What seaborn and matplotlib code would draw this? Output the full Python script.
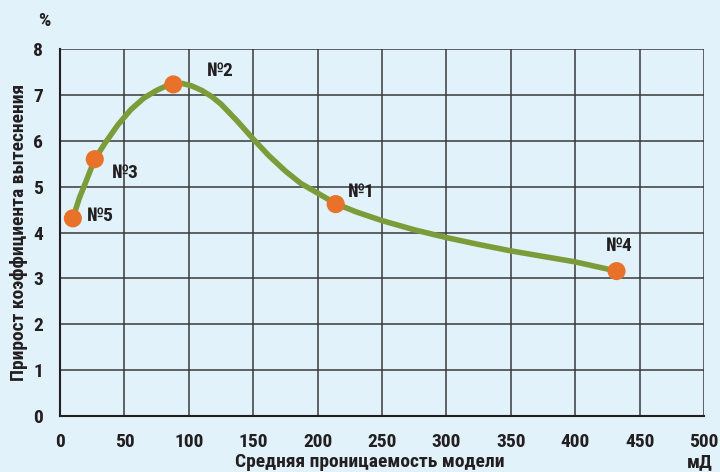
import numpy as np
import pandas as pd
import seaborn as sns
import matplotlib.pyplot as plt

# Points (models)
models = ['№5', '№3', '№2', '№1', '№4']
perm = [10, 27, 88, 214, 432]
gain = [4.31, 5.6, 7.23, 4.62, 3.16]

# fitted curve
curve_x = [10, 15, 20, 27, 35, 45, 55, 65, 75, 82, 88, 95, 102, 110, 118, 125, 137, 150,
           162, 175, 187, 200, 214, 230, 250, 275, 300, 325, 350, 375, 400, 432]
curve_y = [4.31, 4.75, 5.1, 5.6, 5.95, 6.35, 6.68, 6.93, 7.1, 7.19, 7.24, 7.25, 7.2, 7.1,
           6.96, 6.8, 6.45, 6.04, 5.68, 5.34, 5.07, 4.86, 4.63, 4.45, 4.26, 4.06, 3.89,
           3.74, 3.6, 3.48, 3.36, 3.16]

BG = '#E1F2FB'
INK = '#231F20'
GREEN = '#7C9C3A'
ORANGE = '#E8722A'

sns.set_style('white')
plt.rcParams['font.family'] = ['Roboto Condensed', 'DejaVu Sans']
plt.rcParams['font.stretch'] = 'condensed'
plt.rcParams['font.weight'] = 'bold'
plt.rcParams['axes.labelweight'] = 'bold'

fig = plt.figure(figsize=(7.2, 4.72), dpi=100, facecolor=BG)
ax = fig.add_axes([0.0833, 0.1186, 0.8947, 0.7774])
ax.set_facecolor(BG)

curve = pd.DataFrame({'x': curve_x, 'y': curve_y})
pts = pd.DataFrame({'x': perm, 'y': gain, 'name': models})

sns.lineplot(data=curve, x='x', y='y', ax=ax, color=GREEN, linewidth=4,
             sort=False, zorder=3)
sns.scatterplot(data=pts, x='x', y='y', ax=ax, color=ORANGE, s=170,
                edgecolor='none', zorder=4)

# label offsets in points
offsets = {'№5': (10, 2), '№3': (12, -10), '№2': (24, 10), '№1': (9, 9), '№4': (-8, 18)}
for _, r in pts.iterrows():
    dx, dy = offsets[r['name']]
    ax.annotate(r['name'], (r['x'], r['y']), xytext=(dx, dy), textcoords='offset points',
                fontsize=14, fontweight='bold', color=INK, va='center', ha='left')

ax.set_xlim(0, 500)
ax.set_ylim(0, 8)
ax.set_xticks(np.arange(0, 501, 50))
ax.set_yticks(np.arange(0, 9, 1))
ax.grid(True, color='#3a3a3a', linewidth=1.1)
ax.set_axisbelow(True)
for side in ['top', 'right']:
    ax.spines[side].set_visible(False)
for side in ['left', 'bottom']:
    ax.spines[side].set_color(INK)
    ax.spines[side].set_linewidth(1.5)
ax.tick_params(axis='x', length=6, width=1.3, color=INK, pad=6, labelsize=14, labelcolor=INK)
ax.tick_params(axis='y', length=0, pad=12, labelsize=14, labelcolor=INK)
ax.set_xlabel('')
ax.set_ylabel('Прирост коэффициента вытеснения', fontsize=14, color=INK)
ax.yaxis.set_label_coords(-0.05, 0.5)

fig.text(0.514, 0.002, 'Средняя проницаемость модели', fontsize=14, color=INK,
         ha='center', va='bottom', fontweight='bold')
fig.text(0.972, 0.002, 'мД', fontsize=14, color=INK, ha='center', va='bottom', fontweight='bold')
fig.text(0.062, 0.955, '%', fontsize=14, color=INK, ha='center', va='center', fontweight='bold')

fig.savefig('out.png', dpi=100, facecolor=BG)
